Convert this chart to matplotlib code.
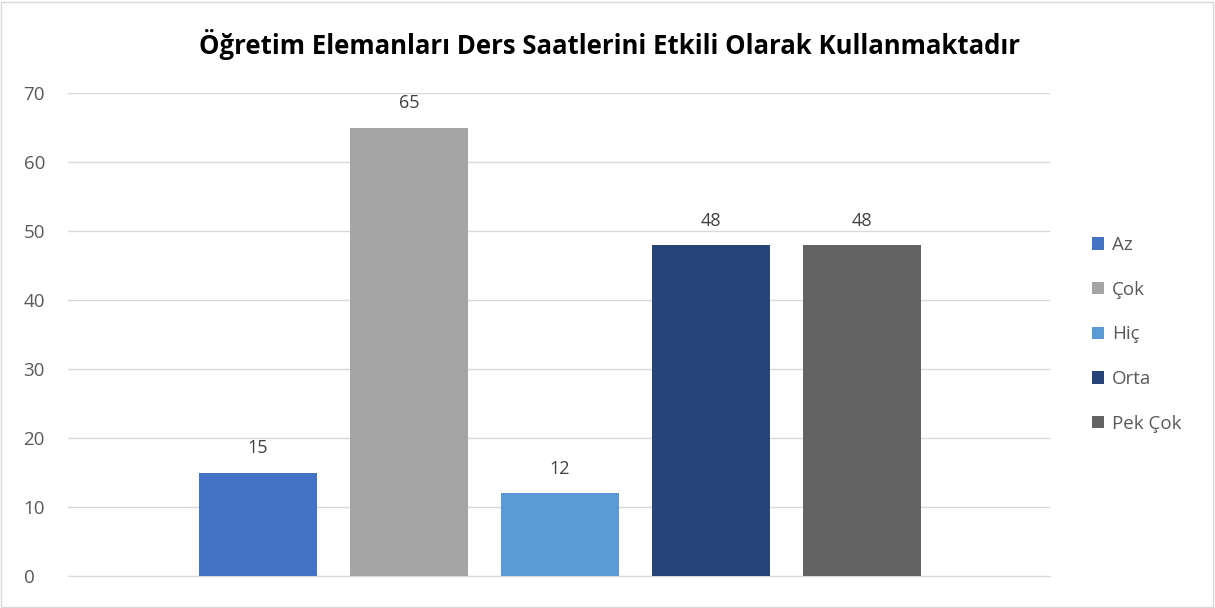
import numpy as np
import matplotlib.pyplot as plt
from matplotlib.patches import Rectangle

plt.rcParams['font.family'] = ['Open Sans', 'DejaVu Sans']

# veriler
categories = ['Az', 'Çok', 'Hiç', 'Orta', 'Pek Çok']
values = [15, 65, 12, 48, 48]
colors = ['#4472C4', '#A5A5A5', '#5B9BD5', '#264478', '#636363']
yticks = [0, 10, 20, 30, 40, 50, 60, 70]
title = 'Öğretim Elemanları Ders Saatlerini Etkili Olarak Kullanmaktadır'

fig = plt.figure(figsize=(12.15, 6.08), dpi=100)
ax = fig.add_axes([0.056, 0.0526, 0.808, 0.7944])

x = np.arange(len(categories))
bars = ax.bar(x, values, width=0.78, color=colors, label=categories, zorder=3)
for xi, v in zip(x, values):
    ax.text(xi, v + 2.2, str(v), ha='center', va='bottom', fontsize=13, color='#404040')

ax.set_xlim(-1.258, 5.245)
ax.set_ylim(0, 70)
ax.set_yticks(yticks)
ax.set_xticks([])
ax.grid(axis='y', color='#D9D9D9', linewidth=1, zorder=0)
for s in ['top', 'right', 'left']:
    ax.spines[s].set_visible(False)
ax.spines['bottom'].set_color('#D9D9D9')
ax.tick_params(axis='y', length=0, labelsize=13.5, labelcolor='#595959', pad=32)
for lbl in ax.get_yticklabels():
    lbl.set_horizontalalignment('left')

fig.text(0.502, 0.927, title, ha='center', va='center', fontsize=18.5, fontweight='bold', color='black')

leg = fig.legend(handles=bars, labels=categories, loc='center left', bbox_to_anchor=(0.885, 0.45),
                 frameon=False, fontsize=13.5, labelcolor='#595959', handlelength=0.65,
                 handleheight=0.65, handletextpad=0.4, labelspacing=1.42)

fig.patches.append(Rectangle((0.001, 0.002), 0.997, 0.995, transform=fig.transFigure,
                             fill=False, edgecolor='#D9D9D9', linewidth=1))

fig.savefig('out.png', dpi=100)
